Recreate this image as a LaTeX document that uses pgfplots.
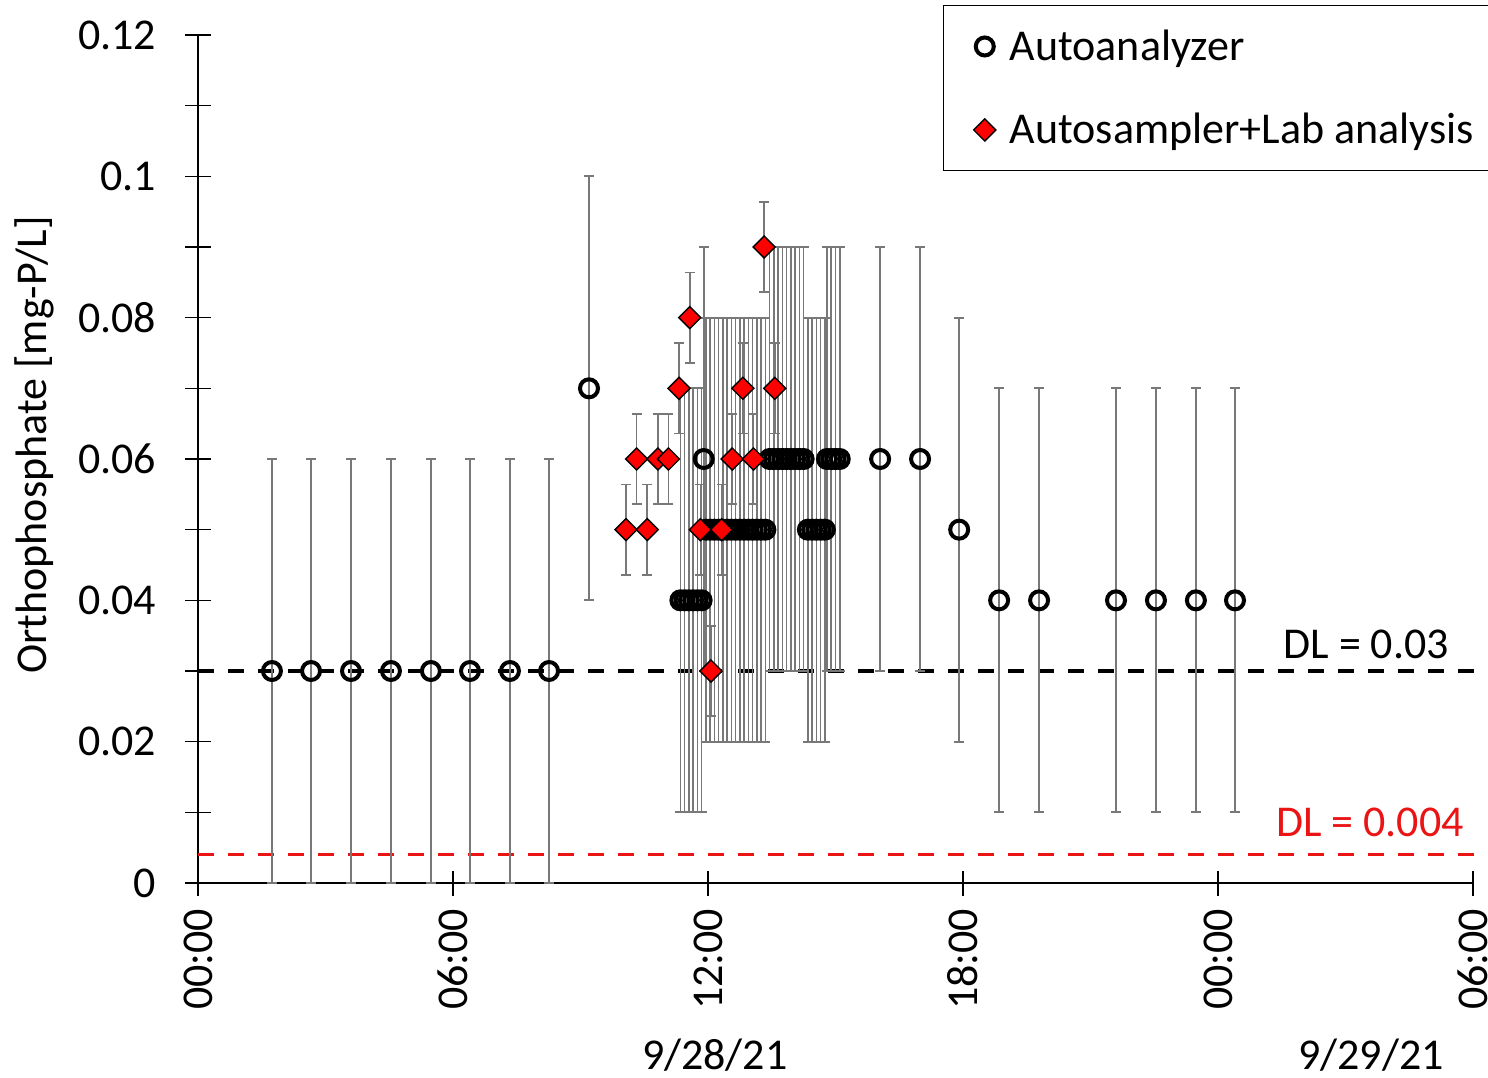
\documentclass[border=0pt]{standalone}
\usepackage{fontspec}
\setmainfont{Carlito}
\usepackage{pgfplots}
\usepackage{pgfplotstable}
\pgfplotsset{compat=1.18}
\definecolor{errgray}{RGB}{120,120,120}
\definecolor{dlred}{RGB}{235,20,20}

% Autoanalyzer readings (hours from 9/28/21 00:00, mg-P/L)
\pgfplotstableread{
h v
1.74 0.03
2.66 0.03
3.60 0.03
4.54 0.03
5.48 0.03
6.40 0.03
7.34 0.03
8.26 0.03
9.20 0.07
11.35 0.04
11.45 0.04
11.55 0.04
11.65 0.04
11.75 0.04
11.85 0.04
11.90 0.06
11.95 0.05
12.05 0.05
12.15 0.05
12.25 0.05
12.35 0.05
12.45 0.05
12.55 0.05
12.65 0.05
12.75 0.05
12.85 0.05
12.95 0.05
13.05 0.05
13.15 0.05
13.25 0.05
13.35 0.05
13.45 0.06
13.55 0.06
13.65 0.06
13.75 0.06
13.85 0.06
13.95 0.06
14.05 0.06
14.15 0.06
14.25 0.06
14.35 0.05
14.45 0.05
14.55 0.05
14.65 0.05
14.75 0.05
14.80 0.06
14.90 0.06
15.00 0.06
15.10 0.06
16.05 0.06
16.99 0.06
17.91 0.05
18.85 0.04
19.79 0.04
21.60 0.04
22.54 0.04
23.48 0.04
24.40 0.04
}\autoanalyzer

% Autosampler + lab analysis
\pgfplotstableread{
h v
10.07 0.05
10.32 0.06
10.57 0.05
10.82 0.06
11.07 0.06
11.32 0.07
11.57 0.08
11.82 0.05
12.07 0.03
12.32 0.05
12.57 0.06
12.82 0.07
13.07 0.06
13.32 0.09
13.57 0.07
}\autosampler

\begin{document}
\begin{tikzpicture}[font=\fontsize{22bp}{26bp}\selectfont]
\begin{axis}[
  scale only axis, width=637.5bp, height=424bp,
  xmin=0, xmax=30, ymin=0, ymax=0.12,
  axis lines=left,
  axis line style={-, line width=1.2bp},
  xtick={0,6,12,18,24,30},
  xticklabels={00:00,06:00,12:00,18:00,00:00,06:00},
  xticklabel style={rotate=90, anchor=east, inner sep=0pt, xshift=-6.5bp},
  ytick={0,0.02,0.04,0.06,0.08,0.1,0.12},
  yticklabels={0,0.02,0.04,0.06,0.08,0.1,0.12},
  minor ytick={0.01,0.03,0.05,0.07,0.09,0.11},
  yticklabel style={inner sep=0pt, xshift=-14.5bp},
  tick align=center,
  major tick length=12.5bp, minor tick length=12.5bp,
  tick style={black, line width=0.75bp},
  ylabel={Orthophosphate [mg-P/L]},
  ylabel style={at={(axis description cs:-0.128,0.5165)}, anchor=center},
  clip=false,
  legend cell align=left,
  legend style={at={(rel axis cs:0.5843,1.0354)}, anchor=north west,
    draw=black, line width=0.75bp, inner xsep=15bp, inner ysep=10bp,
    row sep=21bp, font=\fontsize{22bp}{26bp}\selectfont,
    /tikz/every odd column/.append style={column sep=5bp}},
]
% detection limits
\addplot[black, line width=2bp, dash pattern=on 8bp off 7bp, forget plot]
  coordinates {(0,0.03) (30.35,0.03)};
\addplot[dlred, line width=1.6bp, dash pattern=on 8bp off 7bp, forget plot]
  coordinates {(0,0.004) (30.35,0.004)};

\addplot[only marks, mark=o, mark size=4.5bp,
  mark options={draw=black, fill=none, line width=2bp},
  error bars/.cd, y dir=both, y fixed=0.03,
  error bar style={errgray, line width=0.85bp},
  error mark options={rotate=90, mark size=2.5bp, errgray, line width=0.85bp}]
  table[x=h, y=v] {\autoanalyzer};
\addlegendentry{Autoanalyzer}

\addplot[only marks, mark=square*, mark size=3.9bp,
  mark options={rotate=45, fill=red, draw=black, line width=0.7bp},
  error bars/.cd, y dir=both, y fixed=0.0064,
  error bar style={errgray, line width=0.85bp},
  error mark options={rotate=90, mark size=2.5bp, errgray, line width=0.85bp}]
  table[x=h, y=v] {\autosampler};
\addlegendentry{Autosampler+Lab analysis}

\node[anchor=east] at (axis cs:29.6,0.0337) {DL = 0.03};
\node[anchor=east, text=dlred] at (axis cs:29.95,0.0086) {DL = 0.004};
\node at (axis cs:12.16,0) [yshift=-86bp] {9/28/21};
\node at (axis cs:27.6,0) [yshift=-86bp] {9/29/21};
\end{axis}
\pgfresetboundingbox
\path[use as bounding box] (-99bp,-97.5bp) rectangle (645bp,441.5bp);
\end{tikzpicture}
\end{document}
